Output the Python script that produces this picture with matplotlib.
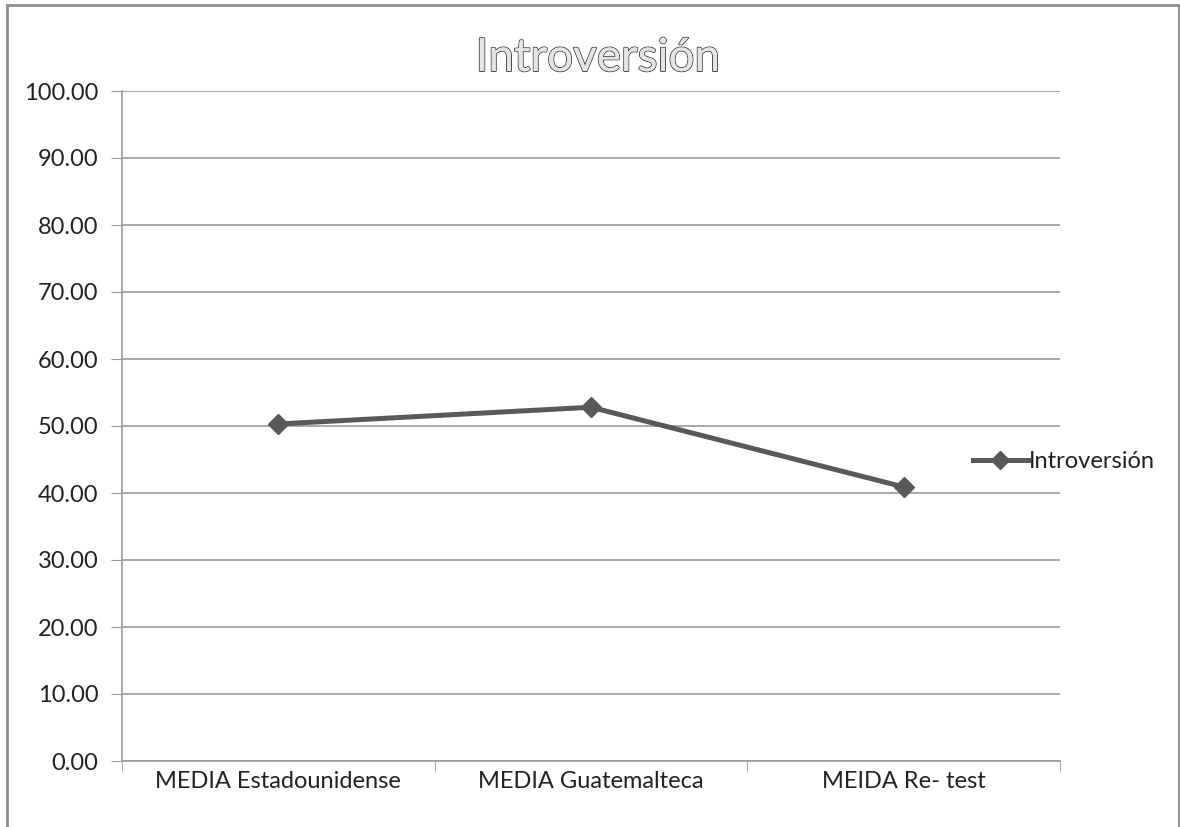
import matplotlib
matplotlib.use("Agg")
import matplotlib.pyplot as plt
import matplotlib.patheffects as pe
from matplotlib.lines import Line2D
from matplotlib.patches import Rectangle

categories = ["MEDIA Estadounidense", "MEDIA Guatemalteca", "MEIDA Re- test"]
values = [50.3, 52.8, 40.9]
series_name = "Introversión"
yticks = [0, 10, 20, 30, 40, 50, 60, 70, 80, 90, 100]

W, H = 1180, 827
fig = plt.figure(figsize=(W / 100, H / 100), dpi=100)
fig.patch.set_facecolor("white")
plt.rcParams["font.family"] = ["Lato", "DejaVu Sans"]

# outer chart frame
fig.add_artist(Rectangle((7 / W, -0.01), (W - 8) / W, (H - 5) / H + 0.01,
                         transform=fig.transFigure, fill=False,
                         edgecolor="#8c8c8c", linewidth=2.0))

left, right, top, bottom = 122, 1060, 91, 761
ax = fig.add_axes([left / W, 1 - bottom / H, (right - left) / W, (bottom - top) / H])

x = list(range(len(categories)))
ax.plot(x, values, color="#595959", linewidth=3.6, marker="D", markersize=10,
        markerfacecolor="#595959", markeredgecolor="#595959", zorder=3)

ax.set_xlim(-0.5, len(categories) - 0.5)
ax.set_ylim(0, 100)
ax.set_yticks(yticks)
ax.set_yticklabels([f"{v:.2f}" for v in yticks], fontsize=17, color="#222222")
ax.set_xticks(x)
ax.set_xticklabels(categories, fontsize=17, color="#222222")
ax.tick_params(axis="x", length=0, pad=7)
ax.set_xticks([i - 0.5 for i in range(len(categories) + 1)], minor=True)
ax.tick_params(axis="x", which="minor", length=7, color="#9a9a9a", direction="out")
ax.tick_params(axis="y", length=8, color="#9a9a9a", pad=9)

ax.grid(axis="y", color="#9a9a9a", linewidth=1.2)
ax.set_axisbelow(True)
for s in ["top", "right"]:
    ax.spines[s].set_visible(False)
for s in ["left", "bottom"]:
    ax.spines[s].set_color("#9a9a9a")
    ax.spines[s].set_linewidth(1.2)

# outlined chart title
fig.text(0.5 + 8 / W, 1 - 58 / H, series_name, ha="center", va="center", fontsize=33,
         color="#e4e4e4",
         path_effects=[pe.withStroke(linewidth=1.3, foreground="#3a3a3a"),
                       pe.Normal()])

handle = Line2D([], [], color="#595959", linewidth=3.6, marker="D", markersize=9,
                markerfacecolor="#595959", markeredgecolor="#595959")
fig.legend([handle], [series_name], loc="center left",
           bbox_to_anchor=(952 / W, 1 - 462 / H), frameon=False, fontsize=17,
           handlelength=2.3, handletextpad=0.05, labelcolor="#222222")

fig.savefig("out.png", dpi=100, facecolor="white")
